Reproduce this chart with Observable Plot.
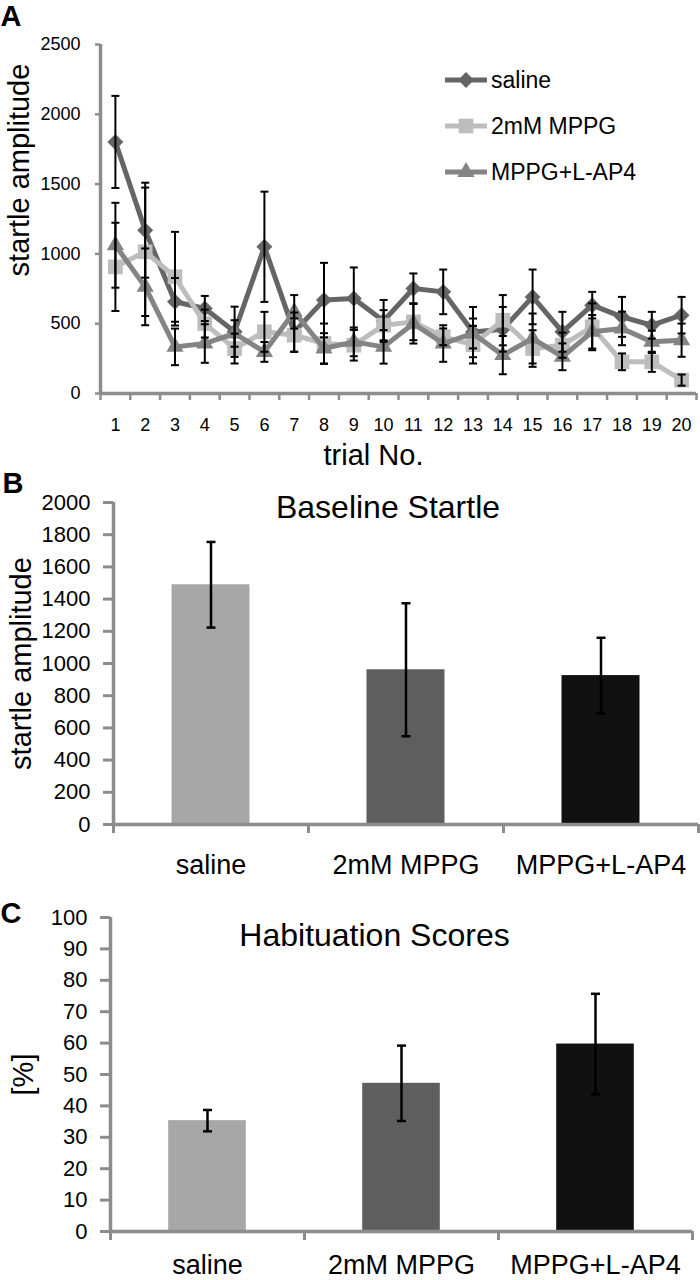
<!DOCTYPE html>
<html>
<head>
<meta charset="utf-8">
<script src="https://cdn.jsdelivr.net/npm/d3@7"></script>
<script src="https://cdn.jsdelivr.net/npm/@observablehq/plot@0.6"></script>
<style>
  body { margin: 0; background: #fff; font-family: "Liberation Sans", Arial, sans-serif; }
  #wrap { position: relative; width: 700px; height: 1280px; overflow: hidden; }
  .panel { position: relative; width: 700px; }
  .legend { position: absolute; left: 440px; top: 58px; }
</style>
</head>
<body>
<div id="wrap">
  <div id="a" class="panel"></div>
  <div id="b" class="panel"></div>
  <div id="c" class="panel"></div>
</div>
<script>
// ---------- DATA ----------
const trials = [1, 2, 3, 4, 5, 6, 7, 8, 9, 10, 11, 12, 13, 14, 15, 16, 17, 18, 19, 20];
const seriesNames = ["saline", "2mM MPPG", "MPPG+L-AP4"];

const salineMeans = [1802, 1170, 657, 609, 442, 1051, 440, 669, 680, 520, 752, 728, 440, 460, 692, 442, 633, 549, 489, 561];
const salineErr   = [330, 340, 170, 90, 180, 395, 140, 267, 223, 150, 108, 160, 180, 160, 196, 143, 95, 143, 96, 131];
const mppgMeans   = [907, 1015, 836, 501, 322, 442, 418, 358, 346, 489, 513, 406, 350, 525, 322, 346, 478, 227, 227, 96];
const mppgErr     = [316, 460, 322, 100, 107, 143, 120, 143, 110, 108, 131, 60, 135, 180, 131, 90, 168, 60, 72, 40];
const lap4Means   = [1062, 764, 334, 358, 430, 298, 585, 322, 370, 334, 501, 358, 430, 275, 394, 263, 442, 466, 370, 382];
const lap4Err     = [304, 275, 131, 138, 95, 71, 120, 110, 103, 120, 143, 131, 107, 137, 179, 96, 120, 120, 80, 119];

const yTicksA = [0, 500, 1000, 1500, 2000, 2500];

const groups = ["saline", "2mM MPPG", "MPPG+L-AP4"];
const baselineMeans = [1489, 961, 925];
const baselineErr   = [266, 413, 235];
const yTicksB = [0, 200, 400, 600, 800, 1000, 1200, 1400, 1600, 1800, 2000];

const habMeans = [35.3, 47.2, 59.7];
const habErr   = [3.4, 12.0, 16.0];
const yTicksC = [0, 10, 20, 30, 40, 50, 60, 70, 80, 90, 100];

// ---------- STYLE ----------
const FONT = "'Liberation Sans', Arial, Helvetica, sans-serif";
const AXIS = "#8c8c8c";
const plain = d3.format("d");
const seriesColors = ["#656565", "#bdbdbd", "#848484"];
const seriesSymbols = [d3.symbolDiamond2, d3.symbolSquare, d3.symbolTriangle];
const seriesR = [7.2, 8.3, 6.4];
const barColors = ["#a7a7a7", "#5e5e5e", "#111111"];
const capSymbol = { draw(ctx, size) { const w = Math.sqrt(size / Math.PI); ctx.moveTo(-w, 0); ctx.lineTo(w, 0); } };

// ---------- PANEL A ----------
const meansA = [salineMeans, mppgMeans, lap4Means];
const errsA = [salineErr, mppgErr, lap4Err];
const tableA = [];
seriesNames.forEach((s, k) => trials.forEach((t, i) =>
  tableA.push({ series: s, k, trial: t, value: meansA[k][i], err: errsA[k][i] })));
const boundariesA = trials.map(t => t - 0.5).concat([trials[trials.length - 1] + 0.5]);

const marksA = [
  Plot.axisY({ ticks: yTicksA, tickFormat: plain, tickSize: 5, tickPadding: 15, fontSize: 18, stroke: AXIS, strokeWidth: 2.5, fill: "#000" }),
  Plot.axisX({ ticks: boundariesA, tickSize: 7, tickFormat: () => "", stroke: AXIS, strokeWidth: 2.5 }),
  Plot.axisX({ ticks: trials, tickFormat: plain, tickSize: 0, tickPadding: 25, fontSize: 18, fill: "#000" }),
  Plot.ruleY([0], { stroke: AXIS, strokeWidth: 3.5 }),
  Plot.ruleX([boundariesA[0]], { stroke: AXIS, strokeWidth: 3.5 })
];
seriesNames.forEach((s, k) => {
  const d = tableA.filter(r => r.k === k);
  marksA.push(Plot.line(d, { x: "trial", y: "value", stroke: seriesColors[k], strokeWidth: 5, strokeLinejoin: "round" }));
  marksA.push(Plot.dot(d, { x: "trial", y: "value", symbol: seriesSymbols[k], r: seriesR[k], fill: seriesColors[k], stroke: "none" }));
});
marksA.push(
  Plot.ruleX(tableA, { x: "trial", y1: d => d.value - d.err, y2: d => d.value + d.err, stroke: "#000", strokeWidth: 2 }),
  Plot.dot(tableA, { x: "trial", y: d => d.value + d.err, symbol: capSymbol, r: 4, fill: "none", stroke: "#000", strokeWidth: 2 }),
  Plot.dot(tableA, { x: "trial", y: d => d.value - d.err, symbol: capSymbol, r: 4, fill: "none", stroke: "#000", strokeWidth: 2 }),
  Plot.text(["startle amplitude"], { text: d => d, frameAnchor: "left", dx: -81, dy: -49, rotate: -90, fontSize: 29, lineAnchor: "middle", textAnchor: "middle", fill: "#000" }),
  Plot.text(["trial No."], { text: d => d, frameAnchor: "bottom", dx: -25, dy: 62, fontSize: 29, lineAnchor: "middle", fill: "#000" }),
  Plot.text(["A"], { text: d => d, frameAnchor: "top-left", dx: -100, dy: -39, fontSize: 29, fontWeight: "bold", textAnchor: "start", lineAnchor: "top", fill: "#000" })
);

const plotA = Plot.plot({
  width: 700, height: 470,
  marginLeft: 100, marginRight: 4, marginTop: 44, marginBottom: 77,
  style: { fontFamily: FONT, fontSize: "18px", color: "#000", background: "#fff", overflow: "visible" },
  x: { domain: [boundariesA[0], boundariesA[boundariesA.length - 1]], label: null },
  y: { domain: [0, 2500], label: null },
  marks: marksA
});
document.getElementById("a").appendChild(plotA);

// legend for panel A
const leg = d3.select("#a").append("svg").attr("class", "legend").attr("width", 260).attr("height", 140);
seriesNames.forEach((s, k) => {
  const g = leg.append("g").attr("transform", `translate(0, ${22 + k * 46})`);
  g.append("line").attr("x1", 5).attr("x2", 47).attr("y1", 0).attr("y2", 0)
    .attr("stroke", seriesColors[k]).attr("stroke-width", 5);
  g.append("path").attr("transform", "translate(26,0)")
    .attr("d", d3.symbol(seriesSymbols[k], Math.PI * seriesR[k] * seriesR[k])())
    .attr("fill", seriesColors[k]);
  g.append("text").attr("x", 51).attr("y", 0).attr("dy", "0.35em")
    .attr("font-family", FONT).attr("font-size", 23).attr("fill", "#000").text(s);
});

// ---------- BAR PANELS ----------
function barPanel({ means, errs, ticks, yMax, height, margins, title, titleDx, titleDy, yLabel, yLabelDx, letter, letterDx, letterDy, labelDy }) {
  const table = groups.map((g, i) => ({ group: g, i, value: means[i], err: errs[i], color: barColors[i] }));
  const marks = [
    Plot.rectY(table, { x1: d => d.i + 0.3, x2: d => d.i + 0.7, y1: 0, y2: "value", fill: "color" }),
    Plot.axisY({ ticks, tickFormat: plain, tickSize: 10, tickPadding: 13, fontSize: 22, stroke: AXIS, strokeWidth: 3, fill: "#000" }),
    Plot.axisX({ ticks: [0, 1, 2, 3], tickSize: 9, tickFormat: () => "", stroke: AXIS, strokeWidth: 3 }),
    Plot.ruleY([0], { stroke: AXIS, strokeWidth: 3.5 }),
    Plot.ruleX([0], { stroke: AXIS, strokeWidth: 3.5 }),
    Plot.ruleX(table, { x: d => d.i + 0.5, y1: d => d.value - d.err, y2: d => d.value + d.err, stroke: "#000", strokeWidth: 2.5 }),
    Plot.dot(table, { x: d => d.i + 0.5, y: d => d.value + d.err, symbol: capSymbol, r: 4.5, fill: "none", stroke: "#000", strokeWidth: 2.5 }),
    Plot.dot(table, { x: d => d.i + 0.5, y: d => d.value - d.err, symbol: capSymbol, r: 4.5, fill: "none", stroke: "#000", strokeWidth: 2.5 }),
    Plot.text(table, { x: d => d.i + 0.5, text: "group", frameAnchor: "bottom", dy: labelDy, fontSize: 27, lineAnchor: "middle", fill: "#000" }),
    Plot.text([title], { text: d => d, frameAnchor: "top", dx: titleDx, dy: titleDy, fontSize: 32, lineAnchor: "middle", fill: "#000" }),
    Plot.text([yLabel], { text: d => d, frameAnchor: "left", dx: yLabelDx, rotate: -90, fontSize: 29, lineAnchor: "middle", textAnchor: "middle", fill: "#000" }),
    Plot.text([letter], { text: d => d, frameAnchor: "top-left", dx: letterDx, dy: letterDy, fontSize: 29, fontWeight: "bold", textAnchor: "start", lineAnchor: "top", fill: "#000" })
  ];
  return Plot.plot({
    width: 700, height,
    marginLeft: margins[0], marginRight: margins[1], marginTop: margins[2], marginBottom: margins[3],
    style: { fontFamily: FONT, fontSize: "22px", color: "#000", background: "#fff", overflow: "visible" },
    x: { domain: [0, 3], label: null },
    y: { domain: [0, yMax], label: null },
    color: { type: "identity" },
    marks
  });
}

document.getElementById("b").appendChild(barPanel({
  means: baselineMeans, errs: baselineErr, ticks: yTicksB, yMax: 2000, height: 430,
  margins: [113, 2, 32, 76],
  title: "Baseline Startle", titleDx: -18, titleDy: 5,
  yLabel: "startle amplitude", yLabelDx: -92,
  letter: "B", letterDx: -111, letterDy: -30, labelDy: 41
}));

document.getElementById("c").appendChild(barPanel({
  means: habMeans, errs: habErr, ticks: yTicksC, yMax: 100, height: 380,
  margins: [110, 8, 17, 49],
  title: "Habituation Scores", titleDx: -27, titleDy: 18,
  yLabel: "[%]", yLabelDx: -87,
  letter: "C", letterDx: -110, letterDy: -15, labelDy: 34
}));
</script>
</body>
</html>
